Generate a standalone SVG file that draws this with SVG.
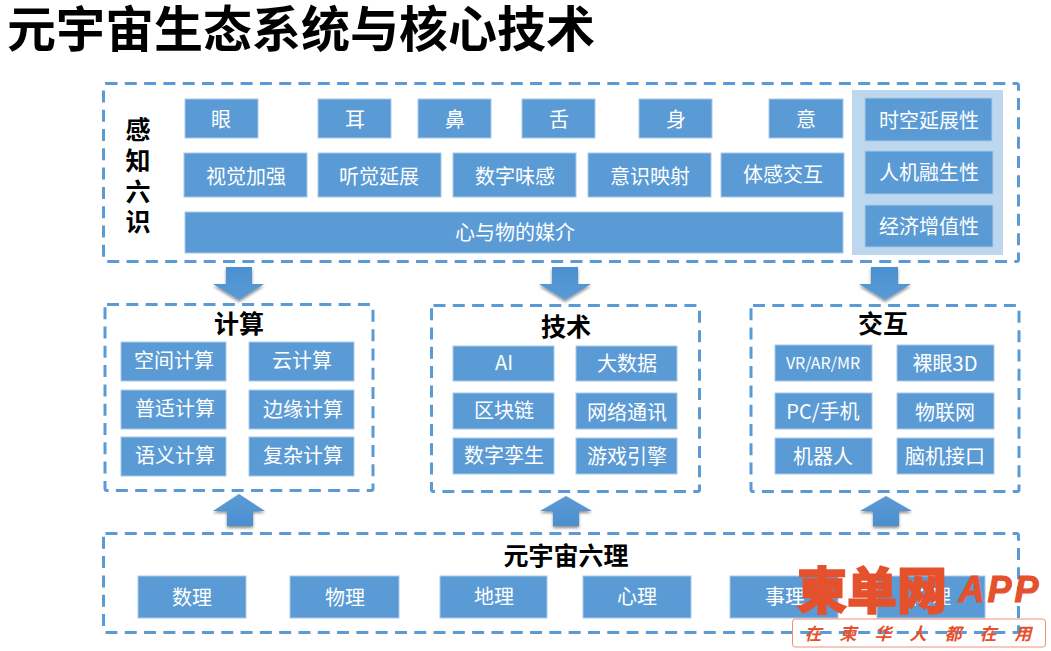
<svg xmlns="http://www.w3.org/2000/svg" width="1051" height="651" viewBox="0 0 1051 651">
<defs>
<linearGradient id="ag" x1="0" y1="0" x2="0" y2="1"><stop offset="0" stop-color="#4a8fd0"/><stop offset="1" stop-color="#5b9bd5"/></linearGradient>
<linearGradient id="au" x1="0" y1="0" x2="0" y2="1"><stop offset="0" stop-color="#5b9bd5"/><stop offset="1" stop-color="#4a8fd0"/></linearGradient>
<filter id="sh" x="-20%" y="-20%" width="140%" height="150%"><feDropShadow dx="0" dy="2" stdDeviation="1.5" flood-color="#000" flood-opacity="0.45"/></filter>
</defs>
<style>
text{font-family:"Noto Sans CJK SC","Liberation Sans",sans-serif;text-anchor:middle}
.b{fill:#5b9bd5;stroke:#a9c9e8;stroke-width:1}
.t{fill:#fff;font-size:20px;dominant-baseline:central;transform:translateY(-1px)}
.d{fill:none;stroke:#5b9bd5;stroke-width:3;stroke-dasharray:12 7.300}
.h{font-weight:700;font-size:25px;fill:#000;dominant-baseline:central;transform:translateY(-1px)}
</style>
<rect width="1051" height="651" fill="#fff"/>
<text id="title" x="301" y="47" font-size="49" font-weight="700" fill="#000" style="font-family:'Liberation Sans','Noto Sans CJK SC',sans-serif">元宇宙生态系统与核心技术</text>
<g id="containers">
<rect id="c-top" class="d" x="103.500" y="83.500" width="915" height="178" rx="2"/>
<rect id="c-calc" class="d" x="105" y="304.500" width="268" height="186" rx="2"/>
<rect id="c-tech" class="d" x="431.500" y="305.500" width="268" height="186" rx="2"/>
<rect id="c-int" class="d" x="751" y="305.500" width="268" height="186" rx="2"/>
<rect id="c-bot" class="d" x="103.500" y="533.500" width="915" height="99" rx="2"/>
</g>
<g id="connectors">
<path filter="url(#sh)" fill="url(#ag)" d="M226 267H252V284H264L239 300L213 284H226Z"/>
<path filter="url(#sh)" fill="url(#ag)" d="M552 267H578V284H591L565 300L539 284H552Z"/>
<path filter="url(#sh)" fill="url(#ag)" d="M871 267H898V284H911L885 300L859 284H871Z"/>
<path filter="url(#sh)" fill="url(#au)" d="M239 494L265 511H253V526H227V511H213Z"/>
<path filter="url(#sh)" fill="url(#au)" d="M566 496L592 511H579V526H553V511H540Z"/>
<path filter="url(#sh)" fill="url(#au)" d="M886 496L912 511H899V526H873V511H860Z"/>
</g>
<g id="label-sense"><text font-size="25" font-weight="700" fill="#000" style="font-family:'Liberation Sans','Noto Sans CJK SC',sans-serif"><tspan x="138" y="139">感</tspan><tspan x="138" y="170">知</tspan><tspan x="138" y="201">六</tspan><tspan x="138" y="231">识</tspan></text></g>
<g id="panel"><rect x="852" y="90" width="151" height="165" fill="#bdd7ee"/></g>
<g id="n1"><rect class="b" x="185" y="99" width="73" height="39"/><text class="t" x="221" y="119">眼</text></g>
<g id="n2"><rect class="b" x="318" y="99" width="73" height="39"/><text class="t" x="355" y="119">耳</text></g>
<g id="n3"><rect class="b" x="418" y="99" width="73" height="39"/><text class="t" x="455" y="119">鼻</text></g>
<g id="n4"><rect class="b" x="522" y="99" width="73" height="39"/><text class="t" x="559" y="119">舌</text></g>
<g id="n5"><rect class="b" x="639" y="99" width="73" height="39"/><text class="t" x="676" y="119">身</text></g>
<g id="n6"><rect class="b" x="769" y="99" width="74" height="39"/><text class="t" x="806" y="119">意</text></g>
<g id="n7"><rect class="b" x="184" y="153" width="123" height="44"/><text class="t" x="246" y="176">视觉加强</text></g>
<g id="n8"><rect class="b" x="318" y="153" width="123" height="44"/><text class="t" x="379" y="176">听觉延展</text></g>
<g id="n9"><rect class="b" x="453" y="153" width="123" height="44"/><text class="t" x="515" y="176">数字味感</text></g>
<g id="n10"><rect class="b" x="588" y="153" width="123" height="44"/><text class="t" x="650" y="176">意识映射</text></g>
<g id="n11"><rect class="b" x="721" y="153" width="123" height="44"/><text class="t" x="783" y="174">体感交互</text></g>
<g id="n12"><rect class="b" x="185" y="212" width="658" height="41"/><text class="t" x="515" y="232">心与物的媒介</text></g>
<g id="n13"><rect class="b" x="865" y="98" width="127" height="43"/><text class="t" x="929" y="120">时空延展性</text></g>
<g id="n14"><rect class="b" x="865" y="151" width="128" height="43"/><text class="t" x="929" y="172">人机融生性</text></g>
<g id="n15"><rect class="b" x="865" y="205" width="128" height="42"/><text class="t" x="929" y="226">经济增值性</text></g>
<g id="h1"><text class="h" x="239" y="323">计算</text></g>
<g id="h2"><text class="h" x="566" y="326">技术</text></g>
<g id="h3"><text class="h" x="883" y="323">交互</text></g>
<g id="c1"><rect class="b" x="121" y="342" width="105" height="39"/><text class="t" x="174" y="360">空间计算</text></g>
<g id="c2"><rect class="b" x="249" y="342" width="105" height="39"/><text class="t" x="302" y="360">云计算</text></g>
<g id="c3"><rect class="b" x="121" y="390" width="105" height="39"/><text class="t" x="175" y="408">普适计算</text></g>
<g id="c4"><rect class="b" x="249" y="390" width="105" height="39"/><text class="t" x="303" y="409">边缘计算</text></g>
<g id="c5"><rect class="b" x="121" y="437" width="105" height="39"/><text class="t" x="175" y="455">语义计算</text></g>
<g id="c6"><rect class="b" x="249" y="437" width="105" height="39"/><text class="t" x="303" y="455">复杂计算</text></g>
<g id="t1"><rect class="b" x="453" y="346" width="101" height="35"/><text class="t" x="504" y="362">AI</text></g>
<g id="t2"><rect class="b" x="576" y="346" width="101" height="35"/><text class="t" x="627" y="363">大数据</text></g>
<g id="t3"><rect class="b" x="453" y="393" width="101" height="36"/><text class="t" x="504" y="410">区块链</text></g>
<g id="t4"><rect class="b" x="576" y="393" width="101" height="36"/><text class="t" x="627" y="412">网络通讯</text></g>
<g id="t5"><rect class="b" x="453" y="438" width="101" height="36"/><text class="t" x="504" y="455">数字孪生</text></g>
<g id="t6"><rect class="b" x="576" y="438" width="101" height="36"/><text class="t" x="627" y="456">游戏引擎</text></g>
<g id="i1"><rect class="b" x="775" y="345" width="97" height="36"/><text class="t" x="823" y="363" style="font-size:16px">VR/AR/MR</text></g>
<g id="i2"><rect class="b" x="897" y="345" width="97" height="36"/><text class="t" x="945" y="363">裸眼3D</text></g>
<g id="i3"><rect class="b" x="775" y="393" width="97" height="36"/><text class="t" x="823" y="411">PC/手机</text></g>
<g id="i4"><rect class="b" x="897" y="393" width="97" height="36"/><text class="t" x="945" y="412">物联网</text></g>
<g id="i5"><rect class="b" x="775" y="438" width="97" height="36"/><text class="t" x="823" y="456">机器人</text></g>
<g id="i6"><rect class="b" x="897" y="438" width="97" height="36"/><text class="t" x="945" y="456">脑机接口</text></g>
<g id="h4"><text class="h" x="566" y="555">元宇宙六理</text></g>
<g id="b1"><rect class="b" x="138" y="576" width="108" height="42"/><text class="t" x="192" y="597">数理</text></g>
<g id="b2"><rect class="b" x="290" y="576" width="109" height="42"/><text class="t" x="345" y="597">物理</text></g>
<g id="b3"><rect class="b" x="440" y="576" width="107" height="42"/><text class="t" x="494" y="596">地理</text></g>
<g id="b4"><rect class="b" x="583" y="576" width="108" height="42"/><text class="t" x="637" y="596">心理</text></g>
<g id="b5"><rect class="b" x="730" y="576" width="108" height="42"/><text class="t" x="785" y="596">事理</text></g>
<g id="b6"><rect class="b" x="877" y="576" width="108" height="42"/><text class="t" x="931" y="596">伦理</text></g>
<g id="watermark">
<text x="872" y="587" font-size="50" font-weight="900" fill="#e5512d" stroke="#e5512d" stroke-width="1.500" dominant-baseline="central">柬单网</text>
<text x="1000" y="589" font-size="36" font-weight="900" fill="#e5512d" stroke="#e5512d" stroke-width="1" dominant-baseline="central" font-style="italic" letter-spacing="3" style="font-family:'Liberation Sans',sans-serif">APP</text>
<rect x="792.500" y="619" width="253" height="28" rx="3" fill="none" stroke="#ee9077" stroke-width="1"/>
<text x="927" y="632" font-size="17" font-weight="700" fill="#e5512d" dominant-baseline="central" font-style="italic" letter-spacing="18">在柬华人都在用</text>
</g>
</svg>
